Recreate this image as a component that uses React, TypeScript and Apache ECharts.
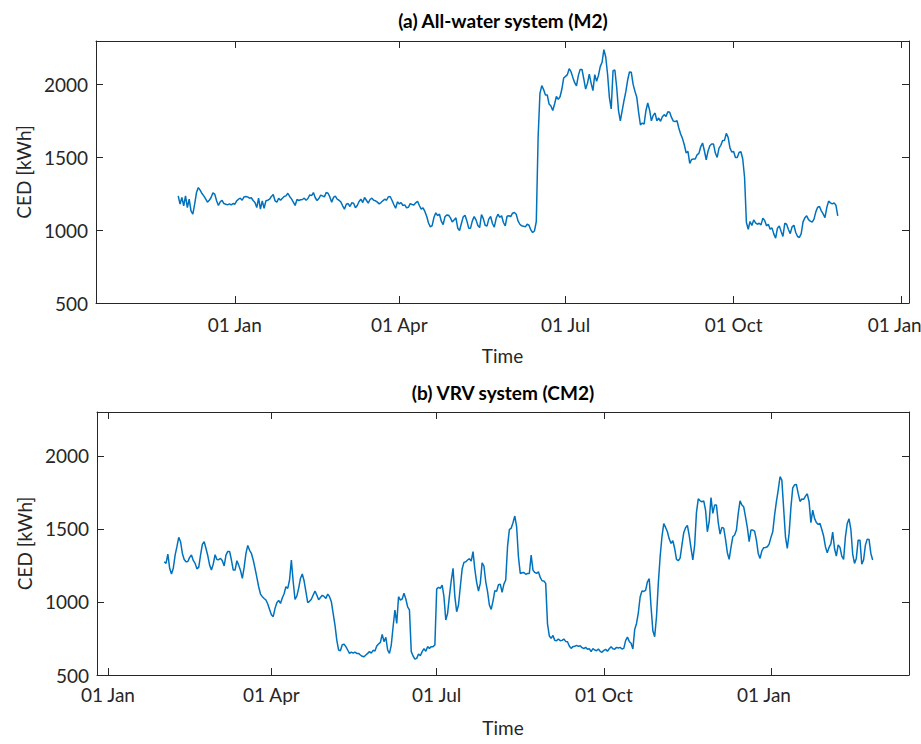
import React, { useEffect, useRef } from "react";
import * as echarts from "echarts";

// ---- data ----
const tickDates = ["2015-01-01", "2015-04-01", "2015-07-01", "2015-10-01", "2016-01-01"];
const tickLabels = ["01 Jan", "01 Apr", "01 Jul", "01 Oct", "01 Jan"];
const yTicks = [500, 1000, 1500, 2000];
const yMin = 500;
const yMax = 2300;

const topTitle = "(a) All-water system (M2)";
const bottomTitle = "(b) VRV system (CM2)";
const yName = "CED [kWh]";
const xName = "Time";

const topRange = ["2014-10-17", "2016-01-05"];
const bottomRange = ["2014-12-26", "2016-03-17"];

// daily values
const topStart = "2014-12-01";
const topValues = [
  1236, 1179, 1225, 1168, 1236, 1156, 1213, 1133, 1110, 1179,
  1259, 1293, 1275, 1252, 1236, 1215, 1193, 1206, 1225, 1257,
  1248, 1202, 1170, 1195, 1206, 1183, 1179, 1174, 1181, 1174,
  1183, 1179, 1202, 1213, 1220, 1206, 1229, 1232, 1229, 1220,
  1223, 1204, 1190, 1156, 1220, 1145, 1202, 1151, 1202, 1206,
  1213, 1232, 1245, 1202, 1193, 1220, 1206, 1220, 1232, 1236,
  1254, 1232, 1215, 1193, 1170, 1211, 1204, 1209, 1211, 1220,
  1206, 1218, 1243, 1238, 1259, 1223, 1204, 1218, 1241, 1236,
  1229, 1259, 1254, 1229, 1193, 1225, 1234, 1213, 1206, 1195,
  1168, 1145,
  1179, 1183, 1163, 1188, 1186, 1154, 1170, 1197, 1213, 1190,
  1225, 1206, 1186, 1211, 1220, 1206, 1202, 1193, 1181, 1190,
  1202, 1213, 1206, 1229, 1232, 1206, 1177, 1151, 1195, 1181,
  1190, 1170, 1174, 1154, 1158, 1183, 1177, 1174, 1188, 1199,
  1170, 1145, 1154, 1129, 1096, 1050, 1023, 1032, 1089, 1119,
  1101, 1110, 1062, 1039, 1092, 1105, 1103, 1085, 1057, 1071,
  1085, 1014, 998, 1046, 1092, 1103, 1064, 1014, 1014, 1064,
  1094, 1071, 1032, 1018, 1108, 1080, 1034, 1028, 1076, 1094,
  1046, 1021, 1080, 1110, 1089, 1099, 1053, 1030, 1096, 1099,
  1094, 1117, 1122, 1110, 1064, 1041, 1030, 1028, 1023, 1041,
  1034, 1002, 984, 995, 1060, 1640, 1940, 1993, 1966, 1929,
  1929, 1867, 1853, 1823, 1867, 1920, 1899, 1917, 1970, 2046,
  2057, 2069, 2110, 2089, 2050, 2014, 1991, 2062, 2105, 2105,
  2039, 1970, 2009, 2073, 2011, 1959, 2069, 2023, 2062, 2124,
  2154, 2240, 2190, 2073, 1913, 1833, 2096, 2101, 1982, 1821,
  1752, 1821, 1890, 1952, 2032, 2087, 2085, 2002, 1954, 1913,
  1810, 1723, 1736, 1729, 1821, 1874, 1826, 1752, 1789, 1805,
  1752, 1771, 1748, 1780, 1794, 1782, 1814, 1810, 1775, 1750,
  1746, 1752, 1702, 1661, 1631, 1587, 1532, 1541, 1459, 1486,
  1489, 1489, 1518, 1528, 1573, 1599, 1546, 1484, 1544, 1580,
  1592, 1592, 1530, 1500, 1564, 1583, 1617, 1617, 1665, 1638,
  1566, 1537, 1541, 1500, 1500, 1534, 1539, 1489, 1362, 1053,
  1007, 1060, 1032, 1071, 1051, 1041, 1048, 1037, 1083, 1067,
  1030, 1041, 1007, 1016, 975, 945, 1014, 1030, 991, 957,
  1048, 1041, 1005, 977, 1023, 1034, 984, 957, 950, 977,
  1057, 1085, 1099, 1073, 1062, 1055, 1076, 1126, 1158, 1163,
  1133, 1112, 1087, 1156, 1200, 1188, 1181, 1188, 1172, 1099,
];

const bottomStart = "2015-02-01";
const bottomValues = [
  1275, 1264, 1328, 1230, 1191, 1230, 1321, 1378, 1442, 1412,
  1332, 1291, 1275, 1277, 1305, 1321, 1284, 1264, 1227, 1236,
  1321, 1394, 1412, 1366, 1316, 1252, 1218, 1259, 1323, 1291,
  1289, 1298, 1282, 1246, 1321, 1346, 1346, 1287, 1218, 1218,
  1282, 1252, 1216, 1161, 1236, 1332, 1387, 1353, 1332, 1287,
  1230, 1168, 1104, 1054, 1036, 1024, 1013, 986, 949, 913,
  899, 956, 995, 1011, 990, 1027, 1056, 1104, 1093, 1150,
  1287, 1138, 1018, 1040, 1093, 1161, 1191, 1145, 1070, 995,
  1004, 1018, 1047, 1075, 1047, 1015, 1031, 1045, 1038, 1024,
  1054, 1036, 1002, 922, 842, 739, 671, 666, 707, 710,
  694, 671, 648, 657, 650, 657, 648, 648, 637, 628,
  625, 637, 648, 660, 650, 669, 664, 698, 712, 723,
  778, 728, 758, 671, 648, 705, 830, 945, 853, 1036,
  1013, 1020, 1059, 1020, 967, 945, 660, 630, 609, 614,
  644, 632, 660, 680, 662, 694, 682, 694, 694, 705,
  1088, 1100, 1093, 1116, 1036, 876, 922, 1040, 1145, 1230,
  1036, 933, 979, 1104, 1225, 1271, 1275, 1287, 1296, 1280,
  1344, 1223, 1134, 1075, 1127, 1268, 1246, 1138, 1070, 979,
  949, 1006, 1077, 1072, 1118, 1122, 1065, 1122, 1150, 1380,
  1495, 1505, 1542, 1588, 1515, 1309, 1195, 1200, 1202, 1189,
  1195, 1195, 1321, 1218, 1202, 1195, 1207, 1168, 1145, 1143,
  1127, 850, 767, 751, 771, 737, 735, 746, 735, 737,
  746, 730, 728, 698, 682, 694, 696, 703, 696, 701,
  687, 680, 689, 676, 680, 660, 680, 671, 666, 678,
  662, 655, 669, 676, 662, 680, 694, 680, 676, 689,
  685, 689, 678, 682, 735, 760, 730, 717, 678, 812,
  853, 926, 1034, 1075, 1072, 1079, 1138, 1159, 967, 803,
  762, 899, 1127, 1309, 1446, 1537, 1510, 1480, 1432, 1401,
  1419, 1366, 1291, 1282, 1300, 1389, 1474, 1508, 1524, 1455,
  1369, 1287, 1389, 1613, 1706, 1692, 1686, 1692, 1629, 1480,
  1549, 1715, 1606, 1663, 1663, 1542, 1464, 1510, 1505, 1428,
  1337, 1291, 1373, 1446, 1458, 1492, 1606, 1692, 1663, 1651,
  1583, 1510, 1412, 1492, 1492, 1485, 1423, 1332, 1298, 1350,
  1371, 1373, 1378, 1396, 1442, 1480, 1594, 1686, 1765, 1857,
  1834, 1640, 1446, 1366, 1469, 1647, 1781, 1802, 1804, 1743,
  1688, 1704, 1702, 1724, 1740, 1686, 1542, 1629, 1572, 1544,
  1531, 1537, 1496, 1451, 1378, 1337, 1373, 1398, 1478, 1366,
  1314, 1391, 1373, 1314, 1291, 1446, 1537, 1569, 1496, 1328,
  1264, 1298, 1423, 1423, 1259, 1287, 1389, 1430, 1428, 1332, 1287,
];

// ---- helpers ----
const DAY = 86400000;
const dayOf = (s: string) => Math.round(Date.parse(s + "T00:00:00Z") / DAY);
const tickDays = tickDates.map(dayOf);
const toSeries = (start: string, vals: number[]) => {
  const s = dayOf(start);
  return vals.map((v, i) => [s + i, v]);
};

const FONT = "Lato, 'Open Sans', sans-serif";
const AX = "#262626";
const LINE = "#0072BD";

function App() {
  const ref = useRef<HTMLDivElement>(null);
  useEffect(() => {
    if (!ref.current) return;
    const chart = echarts.init(ref.current, undefined, { renderer: "svg" });

    const lineStyle = { color: AX, width: 1 };
    const fmtX = (v: number) => {
      const i = tickDays.indexOf(Math.round(v));
      if (i < 0) return "";
      // last label sits at the right edge: nudge it inward so it stays visible
      return i === tickLabels.length - 1 ? `{e|${tickLabels[i]}}` : tickLabels[i];
    };
    const fmtY = (v: number) => String(Math.round(v));
    const labelText = { color: AX, fontSize: 19, fontFamily: FONT };
    const mkX = (gi: number, range: string[], margin: number) => [
      {
        type: "value",
        gridIndex: gi,
        min: dayOf(range[0]),
        max: dayOf(range[1]),
        position: "bottom",
        axisLine: { show: true, onZero: false, lineStyle },
        axisTick: { show: true, inside: true, length: 7, customValues: tickDays, lineStyle },
        axisLabel: {
          customValues: tickDays,
          formatter: fmtX,
          ...labelText,
          margin,
          hideOverlap: false,
          rich: { e: { ...labelText, padding: [0, 14, 0, 0] } },
        },
        splitLine: { show: false },
        name: xName,
        nameLocation: "middle",
        nameGap: 43,
        nameTextStyle: labelText,
      },
      {
        type: "value",
        gridIndex: gi,
        min: dayOf(range[0]),
        max: dayOf(range[1]),
        position: "top",
        axisLine: { show: true, onZero: false, lineStyle },
        axisTick: { show: true, inside: true, length: 7, customValues: tickDays, lineStyle },
        axisLabel: { show: false },
        splitLine: { show: false },
      },
    ];
    const mkY = (gi: number) => [
      {
        type: "value",
        gridIndex: gi,
        min: yMin,
        max: yMax,
        position: "left",
        axisLine: { show: true, onZero: false, lineStyle },
        axisTick: { show: true, inside: true, length: 7, customValues: yTicks, lineStyle },
        axisLabel: {
          customValues: yTicks,
          formatter: fmtY,
          ...labelText,
          margin: 8,
        },
        splitLine: { show: false },
        name: yName,
        nameLocation: "middle",
        nameGap: 62,
        nameTextStyle: labelText,
      },
      {
        type: "value",
        gridIndex: gi,
        min: yMin,
        max: yMax,
        position: "right",
        axisLine: { show: true, onZero: false, lineStyle },
        axisTick: { show: true, inside: true, length: 7, customValues: yTicks, lineStyle },
        axisLabel: { show: false },
        splitLine: { show: false },
      },
    ];

    const titleStyle = {
      textAlign: "center",
      textVerticalAlign: "middle",
      fontSize: 19,
      fontWeight: "bold",
      fontFamily: FONT,
      fill: "#000",
    };

    chart.setOption({
      animation: false,
      backgroundColor: "#ffffff",
      grid: [
        { left: 96, top: 41, right: 12, height: 262, outerBoundsMode: "none", containLabel: false },
        { left: 97, top: 412, right: 12, height: 263, outerBoundsMode: "none", containLabel: false },
      ],
      xAxis: [...mkX(0, topRange, 12), ...mkX(1, bottomRange, 10)],
      yAxis: [...mkY(0), ...mkY(1)],
      series: [
        {
          type: "line",
          xAxisIndex: 0,
          yAxisIndex: 0,
          data: toSeries(topStart, topValues),
          showSymbol: false,
          lineStyle: { color: LINE, width: 1.5 },
          itemStyle: { color: LINE },
        },
        {
          type: "line",
          xAxisIndex: 2,
          yAxisIndex: 2,
          data: toSeries(bottomStart, bottomValues),
          showSymbol: false,
          lineStyle: { color: LINE, width: 1.5 },
          itemStyle: { color: LINE },
        },
      ],
      graphic: [
        { type: "text", x: 503, y: 20, style: { ...titleStyle, text: topTitle } },
        { type: "text", x: 503, y: 392, style: { ...titleStyle, text: bottomTitle } },
      ],
    });
    return () => chart.dispose();
  }, []);
  return (
    <div
      ref={ref}
      style={{ position: "fixed", left: 0, top: 0, width: 921, height: 744, background: "#fff" }}
    />
  );
}

export default App;
